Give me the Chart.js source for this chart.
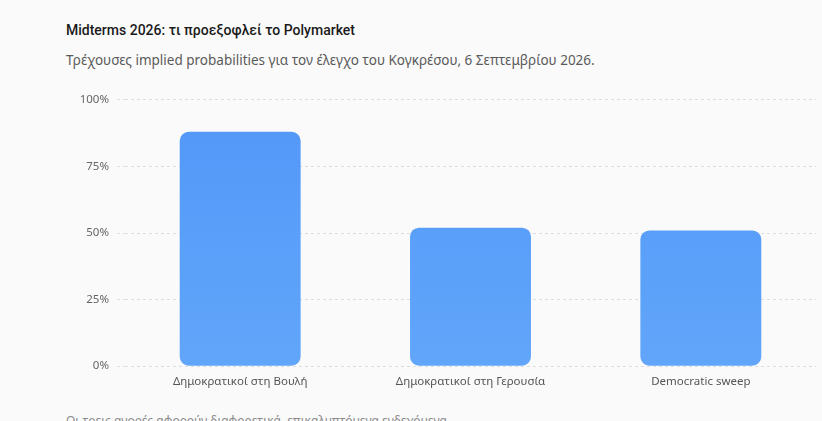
<!DOCTYPE html>
<html>
<head>
<meta charset="utf-8">
<script src="https://cdn.jsdelivr.net/npm/chart.js@4.4.1/dist/chart.umd.min.js"></script>
<style>
  html, body { margin: 0; padding: 0; background: #fafafa; overflow: hidden; }
  body { width: 822px; height: 421px; position: relative; font-family: "Noto Sans", sans-serif; }
  h1 { position: absolute; left: 66px; top: 22px; margin: 0; font-family: Roboto, sans-serif; font-size: 14px; font-weight: 500; color: #1a1a1a; }
  .sub { position: absolute; left: 66px; top: 51px; margin: 0; font-size: 13.5px; color: #5a5a5a; }
  .note { position: absolute; left: 66px; top: 412px; margin: 0; font-size: 12px; color: #8a8a8a; }
  .wrap { position: absolute; left: 66px; top: 85px; width: 756px; height: 309px; }
</style>
</head>
<body>
<h1>Midterms 2026: τι προεξοφλεί το Polymarket</h1>
<p class="sub">Τρέχουσες implied probabilities για τον έλεγχο του Κογκρέσου, 6 Σεπτεμβρίου 2026.</p>
<div class="wrap"><canvas id="chart"></canvas></div>
<p class="note">Οι τρεις αγορές αφορούν διαφορετικά, επικαλυπτόμενα ενδεχόμενα.</p>
<script>
// ------------------ Data ------------------
const markets = ["Δημοκρατικοί στη Βουλή", "Δημοκρατικοί στη Γερουσία", "Democratic sweep"];
const probabilities = [88, 52, 51];
const yTicks = [0, 25, 50, 75, 100];

// ------------------ Chart ------------------
const ctx = document.getElementById("chart");

function barGradient(context) {
  const area = context.chart.chartArea;
  if (!area) return "#5a9ef9";
  const g = context.chart.ctx.createLinearGradient(0, area.top, 0, area.bottom);
  g.addColorStop(0, "#5297f8");
  g.addColorStop(1, "#61a6fa");
  return g;
}

new Chart(ctx, {
  type: "bar",
  data: {
    labels: markets,
    datasets: [{
      label: "Πιθανότητα",
      data: probabilities,
      backgroundColor: barGradient,
      borderRadius: 9,
      borderSkipped: false,
      barPercentage: 0.75,
      categoryPercentage: 0.7
    }]
  },
  options: {
    responsive: true,
    maintainAspectRatio: false,
    animation: false,
    layout: { padding: { top: 2, right: 6, bottom: 4, left: 0 } },
    plugins: {
      legend: { display: false },
      tooltip: { enabled: false }
    },
    scales: {
      x: {
        grid: { display: false },
        border: { display: false },
        ticks: { color: "#555", font: { family: "Noto Sans", size: 11.5 }, padding: 1 }
      },
      y: {
        min: 0,
        max: 100,
        afterFit: s => { s.width = 59; },
        afterBuildTicks: s => { s.ticks = yTicks.map(v => ({ value: v })); },
        grid: { color: "#dedede", tickLength: 8, lineWidth: 1, tickBorderDash: [3, 3] },
        border: { display: false, dash: [3, 3] },
        ticks: {
          color: "#666",
          font: { family: "Noto Sans", size: 11.5 },
          padding: 8,
          callback: v => v + "%"
        }
      }
    }
  }
});
</script>
</body>
</html>
